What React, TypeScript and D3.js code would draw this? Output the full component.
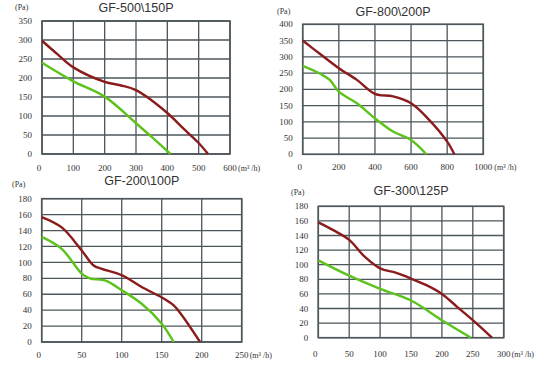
import React from "react";
import * as d3 from "d3";

// ---- Data ----
const titles = ["GF-500\\150P", "GF-800\\200P", "GF-200\\100P", "GF-300\\125P"];

const xTicks1 = [0, 100, 200, 300, 400, 500, 600];
const yTicks1 = [0, 50, 100, 150, 200, 250, 300, 350];
const red1X = [0, 50, 100, 200, 250, 300, 400, 450, 500, 530];
const red1Y = [298, 262, 228, 190, 181, 168, 108, 68, 29, 0];
const green1X = [0, 50, 100, 200, 300, 350, 410];
const green1Y = [240, 215, 191, 151, 81, 45, 0];

const xTicks2 = [0, 200, 400, 600, 800, 1000];
const yTicks2 = [0, 50, 100, 150, 200, 250, 300, 350, 400];
const red2X = [0, 100, 200, 300, 400, 500, 600, 700, 800, 840];
const red2Y = [350, 307, 265, 229, 186, 178, 157, 106, 39, 0];
const green2X = [0, 100, 150, 200, 300, 400, 500, 600, 685];
const green2Y = [272, 247, 229, 193, 157, 111, 70, 44, 0];

const xTicks3 = [0, 50, 100, 150, 200, 250];
const yTicks3 = [0, 20, 40, 60, 80, 100, 120, 140, 160, 180];
const red3X = [0, 25, 50, 65, 75, 100, 125, 150, 165, 175, 198];
const red3Y = [157, 144, 115, 96, 92, 84, 69, 56, 46, 34, 0];
const green3X = [0, 25, 50, 60, 80, 100, 125, 150, 165];
const green3Y = [132, 117, 86, 80, 77, 65, 48, 23, 0];

const xTicks4 = [0, 50, 100, 150, 200, 250, 300];
const yTicks4 = [0, 20, 40, 60, 80, 100, 120, 140, 160, 180];
const red4X = [0, 25, 50, 75, 100, 125, 150, 175, 200, 225, 250, 281];
const red4Y = [158, 147, 134, 111, 95, 89, 81, 72, 60, 42, 24, 0];
const green4X = [0, 50, 100, 150, 200, 247];
const green4Y = [106, 85, 67, 51, 24, 0];

const RED = "#8a1c1c";
const GREEN = "#5cc21c";
const GRID = "#4c565b";
const SERIF = "Liberation Serif, DejaVu Serif, serif";
const SANS = "Liberation Sans, Arial, sans-serif";

type PanelDef = {
  title: string;
  box: [number, number, number, number]; // left, top, right, bottom
  xTicks: number[];
  yTicks: number[];
  redX: number[];
  redY: number[];
  greenX: number[];
  greenY: number[];
  titleY: number;
  paX: number;
  paY: number;
  xLabY: number;
};

const panels: PanelDef[] = [
  { title: titles[0], box: [42, 21, 230, 154], xTicks: xTicks1, yTicks: yTicks1, redX: red1X, redY: red1Y, greenX: green1X, greenY: green1Y, titleY: 11.5, paX: 15, paY: 10, xLabY: 171 },
  { title: titles[1], box: [302.7, 24.3, 483.3, 154.3], xTicks: xTicks2, yTicks: yTicks2, redX: red2X, redY: red2Y, greenX: green2X, greenY: green2Y, titleY: 16, paX: 277, paY: 14, xLabY: 170 },
  { title: titles[2], box: [41.7, 198.7, 241.7, 342], xTicks: xTicks3, yTicks: yTicks3, redX: red3X, redY: red3Y, greenX: green3X, greenY: green3Y, titleY: 184.5, paX: 12, paY: 187, xLabY: 358 },
  { title: titles[3], box: [318.3, 206.3, 503.7, 337.7], xTicks: xTicks4, yTicks: yTicks4, redX: red4X, redY: red4Y, greenX: green4X, greenY: green4Y, titleY: 194.5, paX: 291, paY: 195, xLabY: 357 },
];

function Panel({ p }: { p: PanelDef }) {
  const [l, t, r, b] = p.box;
  const x = d3.scaleLinear().domain([p.xTicks[0], p.xTicks[p.xTicks.length - 1]]).range([l, r]);
  const y = d3.scaleLinear().domain([p.yTicks[0], p.yTicks[p.yTicks.length - 1]]).range([b, t]);
  const line = d3
    .line<[number, number]>()
    .x((d) => x(d[0]))
    .y((d) => y(d[1]))
    .curve(d3.curveCatmullRom.alpha(0.5));
  const redPts = p.redX.map((v, i) => [v, p.redY[i]] as [number, number]);
  const greenPts = p.greenX.map((v, i) => [v, p.greenY[i]] as [number, number]);
  const lastX = p.xTicks[p.xTicks.length - 1];
  return (
    <g>
      <text x={(l + r) / 2} y={p.titleY} textAnchor="middle" fontFamily={SANS} fontSize={12.5} fill="#333">
        {p.title}
      </text>
      <text x={p.paX} y={p.paY} fontFamily={SERIF} fontSize={8} fill="#333">(Pa)</text>
      {p.yTicks.map((v) => (
        <g key={"y" + v}>
          <line x1={l} x2={r} y1={y(v)} y2={y(v)} stroke={GRID} strokeWidth={1.3} />
          <text x={l - 10} y={y(v)} dy="0.35em" textAnchor="end" fontFamily={SERIF} fontSize={9} fill="#333">{v}</text>
        </g>
      ))}
      {p.xTicks.map((v) => (
        <g key={"x" + v}>
          <line x1={x(v)} x2={x(v)} y1={t} y2={b} stroke={GRID} strokeWidth={1.3} />
          <text x={v === 0 ? x(v) - 3 : x(v)} y={p.xLabY} textAnchor="middle" fontFamily={SERIF} fontSize={9} fill="#333">{v}</text>
        </g>
      ))}
      <text x={x(lastX) + (lastX >= 1000 ? 11 : 8)} y={p.xLabY} fontFamily={SERIF} fontSize={8} fill="#333">
        (m³ /h)
      </text>
      <rect x={l} y={t} width={r - l} height={b - t} fill="none" stroke={GRID} strokeWidth={1.6} />
      <path d={line(greenPts) || ""} fill="none" stroke={GREEN} strokeWidth={2.4} strokeLinejoin="round" />
      <path d={line(redPts) || ""} fill="none" stroke={RED} strokeWidth={2.4} strokeLinejoin="round" />
    </g>
  );
}

export default function App() {
  return (
    <svg width={552} height={365} style={{ position: "absolute", left: 0, top: 0, background: "#fff" }}>
      {panels.map((p, i) => (
        <Panel key={i} p={p} />
      ))}
    </svg>
  );
}
